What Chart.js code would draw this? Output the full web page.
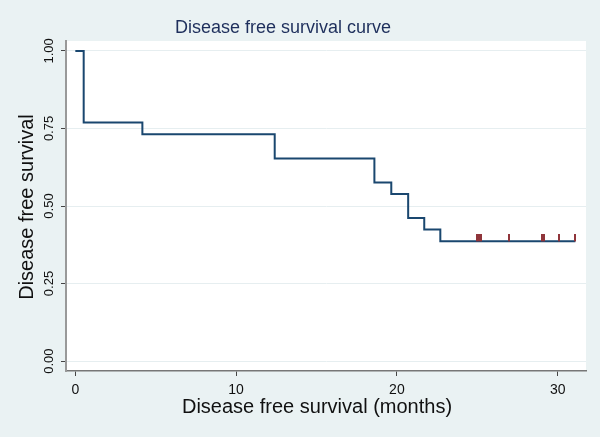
<!DOCTYPE html>
<html>
<head>
<meta charset="utf-8">
<script src="https://cdn.jsdelivr.net/npm/chart.js@4/dist/chart.umd.min.js"></script>
<style>
  html, body { margin: 0; padding: 0; background: #eaf2f3; }
  #wrap { width: 600px; height: 437px; }
</style>
</head>
<body>
<div id="wrap"><canvas id="kmGraf" width="600" height="437"></canvas></div>
<script>
// Data
var tider = [0, 0.52, 4.17, 12.4, 18.6, 19.65, 20.7, 21.7, 22.7, 31.1];
var overlevelse = [1, 0.769, 0.731, 0.653, 0.576, 0.539, 0.461, 0.424, 0.386, 0.386];
var censurTider = [24.95, 25.1, 25.2, 27.0, 29.0, 29.15, 30.1, 31.1];
var censurNiveau = [0.386, 0.386, 0.386, 0.386, 0.386, 0.386, 0.386, 0.386];
var xTicks = [0, 10, 20, 30];
var yTicks = [0, 0.25, 0.5, 0.75, 1];
var yTickLabels = ["0.00", "0.25", "0.50", "0.75", "1.00"];

var titel = "Disease free survival curve";
var xTitel = "Disease free survival (months)";
var yTitel = "Disease free survival";

var font = "'Liberation Sans', Arial, sans-serif";

// censur-mærke: lodret streg der går op fra kurven
function lavCensurMaerke() {
  var c = document.createElement("canvas");
  c.width = 2;
  c.height = 14;
  var g = c.getContext("2d");
  g.fillStyle = "#90353b";
  g.fillRect(0, 0, 2, 7);
  return c;
}
var censurMaerke = lavCensurMaerke();

var baggrundPlugin = {
  id: "baggrund",
  beforeDraw: function (chart) {
    var ctx = chart.ctx;
    var a = chart.chartArea;
    ctx.save();
    ctx.fillStyle = "#eaf2f3";
    ctx.fillRect(0, 0, chart.width, chart.height);
    ctx.fillStyle = "#ffffff";
    ctx.fillRect(a.left, a.top, a.right - a.left, a.bottom - a.top);
    ctx.restore();
  },
  afterDraw: function (chart) {
    var ctx = chart.ctx;
    var yScale = chart.scales.y;
    ctx.save();
    // titel
    ctx.fillStyle = "#1e2f5c";
    ctx.font = "18px " + font;
    ctx.textAlign = "center";
    ctx.textBaseline = "middle";
    ctx.fillText(titel, 283, 28);
    // x-akse titel
    ctx.fillStyle = "#111";
    ctx.font = "20px " + font;
    ctx.fillText(xTitel, 317, 407);
    // y tick labels (roteret)
    ctx.font = "13px " + font;
    yTicks.forEach(function (v, i) {
      var py = yScale.getPixelForValue(v);
      ctx.save();
      ctx.translate(49, py);
      ctx.rotate(-Math.PI / 2);
      ctx.fillText(yTickLabels[i], 0, 0);
      ctx.restore();
    });
    // y-akse titel
    ctx.font = "20px " + font;
    ctx.translate(27, 207);
    ctx.rotate(-Math.PI / 2);
    ctx.fillText(yTitel, 0, 0);
    ctx.restore();
  },
};

var ctxKm = document.getElementById("kmGraf").getContext("2d");
var kmGraf = new Chart(ctxKm, {
  type: "line",
  data: {
    datasets: [
      {
        label: "Censur",
        type: "scatter",
        data: censurTider.map(function (t, i) {
          return { x: t, y: censurNiveau[i] };
        }),
        pointStyle: censurMaerke,
        pointRadius: 7,
        showLine: false,
      },
      {
        label: "Overlevelse",
        data: tider.map(function (t, i) {
          return { x: t, y: overlevelse[i] };
        }),
        stepped: "before",
        borderColor: "#1a476f",
        borderWidth: 2,
        pointRadius: 0,
        fill: false,
      },
    ],
  },
  options: {
    responsive: false,
    animation: false,
    layout: { padding: { left: 0, top: 41, right: 14, bottom: 0 } },
    plugins: {
      legend: { display: false },
      tooltip: { enabled: false },
    },
    scales: {
      x: {
        type: "linear",
        min: -0.58,
        max: 31.76,
        afterBuildTicks: function (scale) {
          scale.ticks = xTicks.map(function (v) { return { value: v }; });
        },
        afterFit: function (scale) { scale.height = 66; },
        grid: {
          drawOnChartArea: false,
          drawTicks: true,
          tickLength: 5,
          tickColor: "#444",
        },
        border: { display: true, color: "#777", width: 1.5 },
        ticks: {
          color: "#111",
          font: { size: 14, family: font },
          padding: 6,
          maxRotation: 0,
        },
      },
      y: {
        type: "linear",
        min: -0.032,
        max: 1.032,
        afterBuildTicks: function (scale) {
          scale.ticks = yTicks.map(function (v) { return { value: v }; });
        },
        afterFit: function (scale) { scale.width = 66; },
        grid: {
          color: "#e6eef0",
          drawTicks: true,
          tickLength: 5,
          tickColor: "#444",
        },
        border: { display: true, color: "#999", width: 2 },
        ticks: { display: false },
      },
    },
  },
  plugins: [baggrundPlugin],
});
</script>
</body>
</html>
